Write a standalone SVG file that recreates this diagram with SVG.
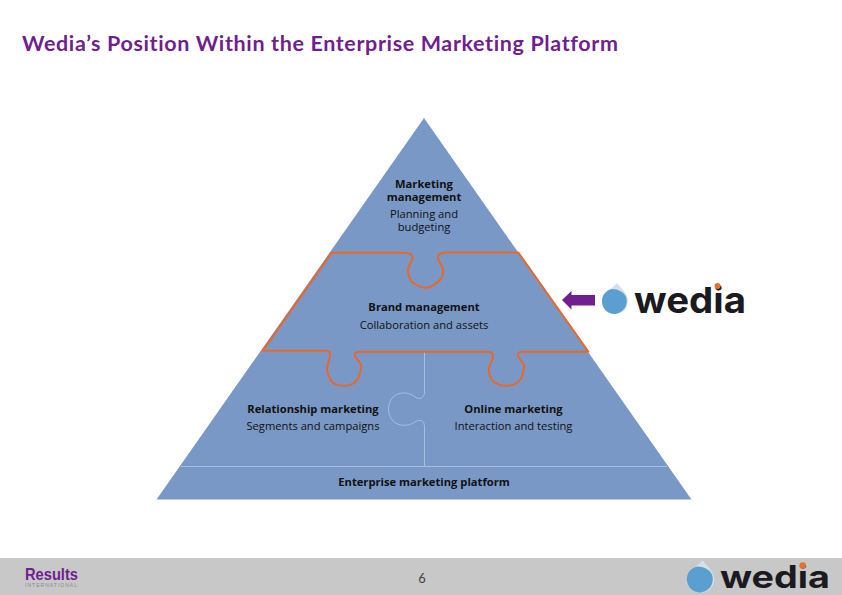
<svg xmlns="http://www.w3.org/2000/svg" width="842" height="595" viewBox="0 0 842 595">
<defs>
<style>
.t{font-family:"Open Sans","Noto Sans",sans-serif;font-size:11.200px;fill:#111;text-anchor:middle}
.b{font-weight:700}
.seam{fill:none;stroke:#a3bfe6;stroke-width:1}
.logo{font-family:"Inter","Lato",sans-serif;font-weight:700;fill:#1a1a20}
</style>
<g id="drop">
<path d="M2 -17 C6 -12 13 -6 13 1 C13 9 7 14 0 14 C-8 14 -13 8 -13 1 C-13 -7 -4 -10 2 -17Z" fill="#d4e0ec"/>
<path d="M-13 1 C-13 -6 -8 -10 -3 -11 C3 -11 9 -8 11 -3 C13 3 11 12 0 14 C-8 14 -13 8 -13 1Z" fill="#5a9fd0"/>
</g>
</defs>
<rect width="842" height="595" fill="#fff"/>
<text id="title" x="22" y="51" font-family="Lato,sans-serif" font-weight="700" font-size="21.500" fill="#6f1f8f" style="font-variant-ligatures:none" textLength="596" lengthAdjust="spacing">Wedia’s Position Within the Enterprise Marketing Platform</text>
<g id="pyramid">
<path d="M424 118 L691.500 499.500 L156.500 499.500Z" fill="#7a98c6"/>
</g>
<g id="connectors">
<path class="seam" d="M181 466.500 H667"/>
<path class="seam" d="M424.500 352 V393 C424 398 420 400 415 397 C408 391 398 392 393 397 C387 404 387 414 393 421 C398 426 408 427 415 422 C420 419 424 420 424.500 426 V466"/>
<path d="M331.700 252.700 H404 C410 252.700 413 255 412.500 259 C410 264 407.500 267 408 271 C408.500 276 410 280 412 282 C417 286 422 287.700 427 287.700 C432 287 437 283 440 280 C442.500 277 443.500 273 443 269 C442 265 438 262 438 258 C438 254 441 252.500 446 252.500 H518.300 L588.300 351.700 H522 C518 351.700 517.500 354 518.500 357 C520 360 524 362 524 366 C524 370 523 374 521.500 378 C518 383 514 385.700 508 385.700 C503 385.700 498 385 494 382 C490 378 488.500 372 489 368 C490 363 493 360 493 356 C493 353 491 351.700 487 351.700 H361 C356 351.700 354 353 355 356 C357 360 361 362 361 366 C361 370 360 374 359 377 C356 382 352 385.700 346 385.700 C341 385.700 336 385 333 383 C329 378 327 373 327 368 C328 363 330 358 330 354 C330 351.500 328 350.700 325 350.700 H262.700Z" fill="none" stroke="#e8682a" stroke-width="2" stroke-linejoin="round"/>
<path d="M562 300 L571.500 291 V295 H595 V305.500 H571.500 V309.500Z" fill="#6f1f8f"/>
</g>
<g id="marketing-management">
<text class="t"><tspan class="b" x="424" y="188">Marketing</tspan><tspan class="b" x="424" y="201">management</tspan><tspan x="424" y="218">Planning and</tspan><tspan x="424" y="231">budgeting</tspan></text>
</g>
<g id="brand-management">
<text class="t"><tspan class="b" x="424" y="311">Brand management</tspan><tspan x="424" y="328.500">Collaboration and assets</tspan></text>
</g>
<g id="relationship-marketing">
<text class="t"><tspan class="b" x="313" y="412.500">Relationship marketing</tspan><tspan x="313" y="430">Segments and campaigns</tspan></text>
</g>
<g id="online-marketing">
<text class="t"><tspan class="b" x="513.500" y="412.500">Online marketing</tspan><tspan x="513.500" y="430">Interaction and testing</tspan></text>
</g>
<g id="platform">
<text class="t b" x="424" y="485.500">Enterprise marketing platform</text>
</g>
<g id="wedia-logo">
<use href="#drop" x="615" y="300"/>
<text class="logo" x="634" y="313" font-size="36" textLength="112" lengthAdjust="spacingAndGlyphs">wedia</text>
<circle cx="717.500" cy="286" r="3" fill="#e8702a"/>
</g>
<g id="footer">
<rect y="558" width="842" height="37" fill="#c8c8c8"/>
<text font-family="Liberation Sans,sans-serif"><tspan x="25" y="580" font-weight="700" font-size="16.500" fill="#6f1f8f" textLength="53" lengthAdjust="spacingAndGlyphs">Results</tspan><tspan x="25" y="586.500" font-size="5" fill="#8a8a8a" textLength="52">INTERNATIONAL</tspan></text>
<text x="422" y="583" font-family="Lato,sans-serif" font-size="13" fill="#444" text-anchor="middle">6</text>
<use href="#drop" transform="translate(700.500 578) scale(1.050)"/>
<text class="logo" x="720" y="587.500" font-size="31" textLength="110" lengthAdjust="spacingAndGlyphs">wedia</text>
<circle cx="802.700" cy="565.500" r="3.200" fill="#e8702a"/>
</g>
</svg>
